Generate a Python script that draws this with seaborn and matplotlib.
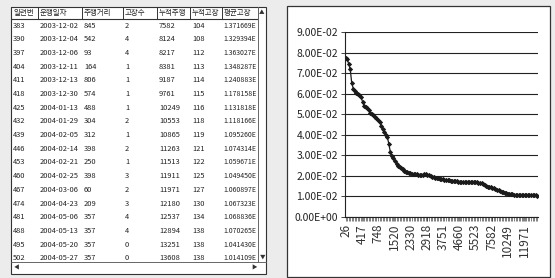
import matplotlib
matplotlib.use("Agg")
import matplotlib.pyplot as plt
import numpy as np
import pandas as pd
import seaborn as sns
from matplotlib.patches import Rectangle
from matplotlib.ticker import FixedLocator, MultipleLocator, FuncFormatter

# ---- table (spreadsheet excerpt) ----
headers = ["일련번", "운행일자", "주행거리", "고장수", "누적주행", "누적고장", "평균고장"]
serial = [383, 390, 397, 404, 411, 418, 425, 432, 439, 446, 453, 460, 467, 474, 481, 488, 495, 502]
dates = ["2003-12-02", "2003-12-04", "2003-12-06", "2003-12-11", "2003-12-13", "2003-12-30",
         "2004-01-13", "2004-01-29", "2004-02-05", "2004-02-14", "2004-02-21", "2004-02-25",
         "2004-03-06", "2004-04-23", "2004-05-06", "2004-05-13", "2004-05-20", "2004-05-27"]
distance = [845, 542, 93, 164, 806, 574, 488, 304, 312, 398, 250, 398, 60, 209, 357, 357, 357, 357]
failures = [2, 4, 4, 1, 1, 1, 1, 2, 1, 2, 1, 3, 2, 3, 4, 4, 0, 0]
cum_distance = [7582, 8124, 8217, 8381, 9187, 9761, 10249, 10553, 10865, 11263, 11513, 11911,
                11971, 12180, 12537, 12894, 13251, 13608]
cum_failures = [104, 108, 112, 113, 114, 115, 116, 118, 119, 121, 122, 125, 127, 130, 134, 138, 138, 138]
avg_failure = ["1.371669E", "1.329394E", "1.363027E", "1.348287E", "1.240883E", "1.178158E",
               "1.131818E", "1.118166E", "1.095260E", "1.074314E", "1.059671E", "1.049450E",
               "1.060897E", "1.067323E", "1.068836E", "1.070265E", "1.041430E", "1.014109E"]

# ---- chart: average failure rate (x 1E-02), one value every 4th category ----
rate_e2 = [7.75, 7.7, 7.45, 7.2, 6.5, 6.25, 6.15, 6.05, 5.98, 5.92, 5.85, 5.6, 5.4, 5.35, 5.28,
           5.22, 5.08, 5.0, 4.95, 4.88, 4.8, 4.7, 4.62, 4.45, 4.3, 4.15, 4.0, 3.9, 3.55, 3.15,
           2.98, 2.85, 2.72, 2.6, 2.5, 2.44, 2.38, 2.33, 2.26, 2.2, 2.18, 2.15, 2.13, 2.11, 2.1,
           2.08, 2.07, 2.06, 2.04, 2.02, 2.04, 2.08, 2.1, 2.06, 2.02, 1.99, 1.97, 1.95, 1.92, 1.9,
           1.88, 1.86, 1.85, 1.84, 1.82, 1.81, 1.8, 1.78, 1.77, 1.76, 1.75, 1.74, 1.73, 1.72, 1.71,
           1.72, 1.71, 1.7, 1.71, 1.7, 1.69, 1.7, 1.68, 1.69, 1.68, 1.68, 1.67, 1.66, 1.64, 1.62,
           1.57, 1.52, 1.48, 1.46, 1.45, 1.43, 1.42, 1.38, 1.33, 1.29, 1.26, 1.23, 1.2, 1.18, 1.16,
           1.14, 1.12, 1.11, 1.1, 1.09, 1.09, 1.08, 1.09, 1.08, 1.07, 1.08, 1.07, 1.08, 1.07, 1.08,
           1.09, 1.07, 1.06, 1.05, 1.01]
cat_step = 4
tick_labels = ["26", "417", "748", "1520", "2330", "2918", "3751", "4660", "5523", "7582", "10249", "11971"]
tick_step = 42
n_categories = 498

sns.set_theme(style="white")
plt.rcParams["font.family"] = ["Noto Sans CJK KR", "DejaVu Sans"]

fig = plt.figure(figsize=(5.55, 2.78), dpi=100, facecolor="#ececec")

# overlay axes in pixel units for the spreadsheet + panel frames
bg = fig.add_axes([0, 0, 1, 1], zorder=0)
bg.set_xlim(0, 555)
bg.set_ylim(278, 0)
bg.axis("off")

# table frame
bg.add_patch(Rectangle((11, 7), 255, 267, facecolor="white", edgecolor="#333", lw=0.8))
col_x = [11, 38, 82, 123, 157, 190, 222, 258]
bg.plot([11, 258], [19, 19], color="#333", lw=0.8)
for cx in col_x:
    bg.plot([cx, cx], [7, 19], color="#333", lw=0.7)
bg.plot([258, 258], [7, 262], color="#666", lw=0.7)
bg.plot([11, 266], [262, 262], color="#666", lw=0.7)
bg.text(262, 13, "▲", fontsize=4, ha="center", va="center", color="#333")
bg.text(262.5, 257, "▼", fontsize=4, ha="center", va="center", color="#333")
bg.text(16, 268, "◀", fontsize=4, ha="center", va="center", color="#333")
bg.text(254, 268, "▶", fontsize=4, ha="center", va="center", color="#333")

tfs = 5.4
for j, h in enumerate(headers):
    bg.text(col_x[j] + 2, 13.5, h, fontsize=tfs, va="center", ha="left", color="#222")

row_y0, row_h = 25.5, 13.7
for k in range(len(serial)):
    y = row_y0 + k * row_h
    cells = [serial[k], dates[k], distance[k], failures[k], cum_distance[k], cum_failures[k]]
    for j, c in enumerate(cells):
        bg.text(col_x[j] + 2, y, str(c), fontsize=tfs, va="center", ha="left", color="#222")
    # last column is cut off by the column edge in the sheet
    bg.text(col_x[6] + 1.5, y, avg_failure[k], fontsize=tfs - 0.4, va="center", ha="left",
            color="#222")

# chart panel frame
bg.add_patch(Rectangle((287, 6), 263, 271, facecolor="white", edgecolor="#333", lw=0.9))

# ---- the line chart ----
df = pd.DataFrame({
    "cat": np.arange(len(rate_e2)) * cat_step,
    "rate": np.array(rate_e2) * 1e-2,
})

ax = fig.add_axes([345 / 555, 1 - 217 / 278, 193 / 555, 185 / 278], zorder=2)
ax.set_facecolor("white")
sns.lineplot(data=df, x="cat", y="rate", ax=ax, color="#1a1a1a", linewidth=0.9,
             marker="D", markersize=2.7, markeredgewidth=0)

ax.set_xlim(-1.5, n_categories)
ax.set_ylim(0, 0.09)
ax.yaxis.set_major_locator(MultipleLocator(0.01))
ax.yaxis.set_major_formatter(FuncFormatter(lambda v, p: f"{v:.2E}"))
ax.xaxis.set_major_locator(FixedLocator(np.arange(len(tick_labels)) * tick_step))
ax.set_xticklabels(tick_labels, rotation=90)
ax.xaxis.set_minor_locator(MultipleLocator(cat_step))

ax.yaxis.grid(True, color="#222", linewidth=0.8)
ax.xaxis.grid(False)
for s in ["top", "right"]:
    ax.spines[s].set_visible(False)
for s in ["left", "bottom"]:
    ax.spines[s].set_color("#222")
    ax.spines[s].set_linewidth(0.8)

ax.tick_params(axis="y", which="major", length=3, width=0.6, color="#222", pad=2,
               labelsize=7.5, labelcolor="#222", left=True)
ax.tick_params(axis="x", which="both", length=3, width=0.4, color="#222", pad=2,
               labelsize=8.5, labelcolor="#333", bottom=True)
for lab in ax.get_yticklabels() + ax.get_xticklabels():
    lab.set_family(["Liberation Sans Narrow", "Noto Sans CJK KR", "DejaVu Sans"])

ax.set_xlabel("")
ax.set_ylabel("")

fig.savefig("out.png", dpi=100, facecolor=fig.get_facecolor())
